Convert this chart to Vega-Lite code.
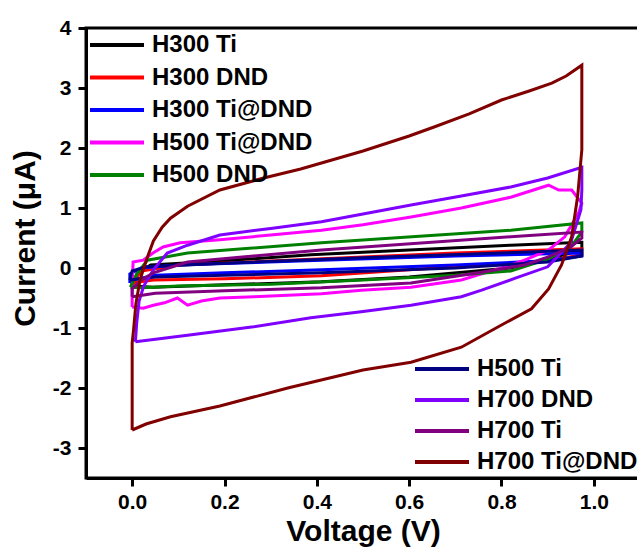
{
  "$schema": "https://vega.github.io/schema/vega-lite/v6.json",
  "width": 554,
  "height": 450,
  "autosize": "none",
  "padding": {"left": 86, "top": 28, "right": 0, "bottom": 74},
  "background": "white",
  "config": {
    "font": "Liberation Sans",
    "view": {"stroke": "black", "strokeWidth": 3},
    "axis": {
      "grid": false,
      "domainColor": "black",
      "domainWidth": 3,
      "tickColor": "black",
      "tickWidth": 3,
      "tickSize": 8,
      "labelFont": "Liberation Sans",
      "labelFontWeight": "bold",
      "labelFontSize": 21,
      "labelColor": "black",
      "titleFont": "Liberation Sans",
      "titleFontWeight": "bold",
      "titleFontSize": 30,
      "titleColor": "black"
    },
    "legend": {
      "orient": "none",
      "symbolType": "M-2.7,0L2.7,0",
      "symbolStrokeWidth": 4,
      "symbolSize": 400,
      "labelFont": "Liberation Sans",
      "labelFontWeight": "bold",
      "labelFontSize": 24,
      "labelColor": "black",
      "labelOffset": 23,
      "labelLimit": 0,
      "rowPadding": 8.5,
      "padding": 0,
      "title": null
    }
  },
  "datasets": {
    "a": [
      {"s":"H300 Ti","i":0,"v":0,"c":-0.3},{"s":"H300 Ti","i":1,"v":0.01,"c":-0.1},{"s":"H300 Ti","i":2,"v":0.04,"c":0.05},{"s":"H300 Ti","i":3,"v":0.2,"c":0.12},{"s":"H300 Ti","i":4,"v":0.387,"c":0.22},{"s":"H300 Ti","i":5,"v":0.6,"c":0.3},{"s":"H300 Ti","i":6,"v":0.82,"c":0.38},{"s":"H300 Ti","i":7,"v":0.974,"c":0.43},{"s":"H300 Ti","i":8,"v":0.974,"c":0.3},{"s":"H300 Ti","i":9,"v":0.9,"c":0.15},{"s":"H300 Ti","i":10,"v":0.82,"c":0.0},{"s":"H300 Ti","i":11,"v":0.6,"c":-0.15},{"s":"H300 Ti","i":12,"v":0.41,"c":-0.23},{"s":"H300 Ti","i":13,"v":0.2,"c":-0.28},{"s":"H300 Ti","i":14,"v":0.046,"c":-0.32},{"s":"H300 Ti","i":15,"v":0,"c":-0.3},

      {"s":"H300 DND","i":0,"v":0,"c":-0.25},{"s":"H300 DND","i":1,"v":0.02,"c":-0.05},{"s":"H300 DND","i":2,"v":0.1,"c":0.05},{"s":"H300 DND","i":3,"v":0.4,"c":0.15},{"s":"H300 DND","i":4,"v":0.7,"c":0.25},{"s":"H300 DND","i":5,"v":0.974,"c":0.32},{"s":"H300 DND","i":6,"v":0.974,"c":0.22},{"s":"H300 DND","i":7,"v":0.9,"c":0.12},{"s":"H300 DND","i":8,"v":0.82,"c":0.08},{"s":"H300 DND","i":9,"v":0.6,"c":-0.03},{"s":"H300 DND","i":10,"v":0.41,"c":-0.13},{"s":"H300 DND","i":11,"v":0.2,"c":-0.18},{"s":"H300 DND","i":12,"v":0.046,"c":-0.2},{"s":"H300 DND","i":13,"v":0,"c":-0.25},

      {"s":"H300 Ti@DND","i":0,"v":-0.005,"c":-0.25},{"s":"H300 Ti@DND","i":1,"v":-0.005,"c":-0.1},{"s":"H300 Ti@DND","i":2,"v":0.02,"c":0.0},{"s":"H300 Ti@DND","i":3,"v":0.1,"c":0.05},{"s":"H300 Ti@DND","i":4,"v":0.41,"c":0.13},{"s":"H300 Ti@DND","i":5,"v":0.7,"c":0.2},{"s":"H300 Ti@DND","i":6,"v":0.974,"c":0.25},{"s":"H300 Ti@DND","i":7,"v":0.974,"c":0.2},{"s":"H300 Ti@DND","i":8,"v":0.9,"c":0.12},{"s":"H300 Ti@DND","i":9,"v":0.7,"c":0.05},{"s":"H300 Ti@DND","i":10,"v":0.41,"c":-0.03},{"s":"H300 Ti@DND","i":11,"v":0.2,"c":-0.08},{"s":"H300 Ti@DND","i":12,"v":0.05,"c":-0.12},{"s":"H300 Ti@DND","i":13,"v":0,"c":-0.2},{"s":"H300 Ti@DND","i":14,"v":-0.005,"c":-0.25},

      {"s":"H500 Ti@DND","i":0,"v":0,"c":-0.65},{"s":"H500 Ti@DND","i":1,"v":0,"c":-0.3},{"s":"H500 Ti@DND","i":2,"v":0.002,"c":0.1},{"s":"H500 Ti@DND","i":3,"v":0.024,"c":0.13},{"s":"H500 Ti@DND","i":4,"v":0.045,"c":0.25},{"s":"H500 Ti@DND","i":5,"v":0.067,"c":0.35},{"s":"H500 Ti@DND","i":6,"v":0.104,"c":0.42},{"s":"H500 Ti@DND","i":7,"v":0.19,"c":0.47},{"s":"H500 Ti@DND","i":8,"v":0.3,"c":0.55},{"s":"H500 Ti@DND","i":9,"v":0.41,"c":0.63},{"s":"H500 Ti@DND","i":10,"v":0.5,"c":0.72},{"s":"H500 Ti@DND","i":11,"v":0.604,"c":0.85},{"s":"H500 Ti@DND","i":12,"v":0.713,"c":1.0},{"s":"H500 Ti@DND","i":13,"v":0.82,"c":1.18},{"s":"H500 Ti@DND","i":14,"v":0.902,"c":1.38},{"s":"H500 Ti@DND","i":15,"v":0.924,"c":1.3},{"s":"H500 Ti@DND","i":16,"v":0.952,"c":1.3},{"s":"H500 Ti@DND","i":17,"v":0.974,"c":1.08},{"s":"H500 Ti@DND","i":18,"v":0.967,"c":0.92},{"s":"H500 Ti@DND","i":19,"v":0.937,"c":0.52},{"s":"H500 Ti@DND","i":20,"v":0.902,"c":0.3},{"s":"H500 Ti@DND","i":21,"v":0.85,"c":0.13},{"s":"H500 Ti@DND","i":22,"v":0.82,"c":0.05},{"s":"H500 Ti@DND","i":23,"v":0.713,"c":-0.2},{"s":"H500 Ti@DND","i":24,"v":0.604,"c":-0.32},{"s":"H500 Ti@DND","i":25,"v":0.496,"c":-0.37},{"s":"H500 Ti@DND","i":26,"v":0.41,"c":-0.43},{"s":"H500 Ti@DND","i":27,"v":0.264,"c":-0.48},{"s":"H500 Ti@DND","i":28,"v":0.19,"c":-0.5},{"s":"H500 Ti@DND","i":29,"v":0.15,"c":-0.55},{"s":"H500 Ti@DND","i":30,"v":0.12,"c":-0.62},{"s":"H500 Ti@DND","i":31,"v":0.098,"c":-0.5},{"s":"H500 Ti@DND","i":32,"v":0.07,"c":-0.58},{"s":"H500 Ti@DND","i":33,"v":0.046,"c":-0.62},{"s":"H500 Ti@DND","i":34,"v":0.024,"c":-0.67},{"s":"H500 Ti@DND","i":35,"v":0,"c":-0.65},

      {"s":"H500 DND","i":0,"v":-0.004,"c":-0.32},{"s":"H500 DND","i":1,"v":0.01,"c":-0.1},{"s":"H500 DND","i":2,"v":0.033,"c":0.13},{"s":"H500 DND","i":3,"v":0.12,"c":0.25},{"s":"H500 DND","i":4,"v":0.41,"c":0.42},{"s":"H500 DND","i":5,"v":0.82,"c":0.63},{"s":"H500 DND","i":6,"v":0.974,"c":0.75},{"s":"H500 DND","i":7,"v":0.974,"c":0.6},{"s":"H500 DND","i":8,"v":0.95,"c":0.35},{"s":"H500 DND","i":9,"v":0.9,"c":0.15},{"s":"H500 DND","i":10,"v":0.82,"c":-0.05},{"s":"H500 DND","i":11,"v":0.7,"c":-0.12},{"s":"H500 DND","i":12,"v":0.5,"c":-0.2},{"s":"H500 DND","i":13,"v":0.3,"c":-0.27},{"s":"H500 DND","i":14,"v":0.1,"c":-0.3},{"s":"H500 DND","i":15,"v":0.02,"c":-0.33},{"s":"H500 DND","i":16,"v":-0.004,"c":-0.32}
    ],
    "b": [
      {"s":"H500 Ti","i":0,"v":-0.005,"c":-0.2},{"s":"H500 Ti","i":1,"v":0,"c":-0.05},{"s":"H500 Ti","i":2,"v":0.03,"c":0.02},{"s":"H500 Ti","i":3,"v":0.2,"c":0.08},{"s":"H500 Ti","i":4,"v":0.5,"c":0.17},{"s":"H500 Ti","i":5,"v":0.8,"c":0.25},{"s":"H500 Ti","i":6,"v":0.974,"c":0.3},{"s":"H500 Ti","i":7,"v":0.974,"c":0.2},{"s":"H500 Ti","i":8,"v":0.9,"c":0.1},{"s":"H500 Ti","i":9,"v":0.7,"c":0.0},{"s":"H500 Ti","i":10,"v":0.41,"c":-0.08},{"s":"H500 Ti","i":11,"v":0.2,"c":-0.12},{"s":"H500 Ti","i":12,"v":0.05,"c":-0.15},{"s":"H500 Ti","i":13,"v":-0.005,"c":-0.2},

      {"s":"H700 DND","i":0,"v":0.007,"c":-1.23},{"s":"H700 DND","i":1,"v":0.01,"c":-0.9},{"s":"H700 DND","i":2,"v":0.015,"c":-0.55},{"s":"H700 DND","i":3,"v":0.025,"c":-0.3},{"s":"H700 DND","i":4,"v":0.046,"c":-0.03},{"s":"H700 DND","i":5,"v":0.076,"c":0.25},{"s":"H700 DND","i":6,"v":0.12,"c":0.38},{"s":"H700 DND","i":7,"v":0.19,"c":0.55},{"s":"H700 DND","i":8,"v":0.3,"c":0.66},{"s":"H700 DND","i":9,"v":0.41,"c":0.77},{"s":"H700 DND","i":10,"v":0.5,"c":0.9},{"s":"H700 DND","i":11,"v":0.604,"c":1.05},{"s":"H700 DND","i":12,"v":0.713,"c":1.2},{"s":"H700 DND","i":13,"v":0.82,"c":1.35},{"s":"H700 DND","i":14,"v":0.9,"c":1.5},{"s":"H700 DND","i":15,"v":0.974,"c":1.68},{"s":"H700 DND","i":16,"v":0.974,"c":1.3},{"s":"H700 DND","i":17,"v":0.972,"c":0.97},{"s":"H700 DND","i":18,"v":0.95,"c":0.42},{"s":"H700 DND","i":19,"v":0.9,"c":0.02},{"s":"H700 DND","i":20,"v":0.83,"c":-0.17},{"s":"H700 DND","i":21,"v":0.757,"c":-0.37},{"s":"H700 DND","i":22,"v":0.713,"c":-0.48},{"s":"H700 DND","i":23,"v":0.604,"c":-0.62},{"s":"H700 DND","i":24,"v":0.496,"c":-0.73},{"s":"H700 DND","i":25,"v":0.387,"c":-0.83},{"s":"H700 DND","i":26,"v":0.263,"c":-0.98},{"s":"H700 DND","i":27,"v":0.12,"c":-1.12},{"s":"H700 DND","i":28,"v":0.007,"c":-1.23},

      {"s":"H700 Ti","i":0,"v":0,"c":-0.48},{"s":"H700 Ti","i":1,"v":0,"c":-0.35},{"s":"H700 Ti","i":2,"v":0.02,"c":-0.2},{"s":"H700 Ti","i":3,"v":0.046,"c":-0.08},{"s":"H700 Ti","i":4,"v":0.12,"c":0.1},{"s":"H700 Ti","i":5,"v":0.41,"c":0.3},{"s":"H700 Ti","i":6,"v":0.82,"c":0.52},{"s":"H700 Ti","i":7,"v":0.974,"c":0.6},{"s":"H700 Ti","i":8,"v":0.974,"c":0.5},{"s":"H700 Ti","i":9,"v":0.95,"c":0.35},{"s":"H700 Ti","i":10,"v":0.9,"c":0.18},{"s":"H700 Ti","i":11,"v":0.85,"c":0.05},{"s":"H700 Ti","i":12,"v":0.75,"c":-0.08},{"s":"H700 Ti","i":13,"v":0.604,"c":-0.25},{"s":"H700 Ti","i":14,"v":0.41,"c":-0.33},{"s":"H700 Ti","i":15,"v":0.2,"c":-0.38},{"s":"H700 Ti","i":16,"v":0.05,"c":-0.42},{"s":"H700 Ti","i":17,"v":0,"c":-0.48},

      {"s":"H700 Ti@DND","i":0,"v":0,"c":-2.7},{"s":"H700 Ti@DND","i":1,"v":0,"c":-2.0},{"s":"H700 Ti@DND","i":2,"v":0,"c":-1.25},{"s":"H700 Ti@DND","i":3,"v":0.003,"c":-1.03},{"s":"H700 Ti@DND","i":4,"v":0.008,"c":-0.6},{"s":"H700 Ti@DND","i":5,"v":0.017,"c":-0.2},{"s":"H700 Ti@DND","i":6,"v":0.025,"c":0.0},{"s":"H700 Ti@DND","i":7,"v":0.033,"c":0.18},{"s":"H700 Ti@DND","i":8,"v":0.046,"c":0.45},{"s":"H700 Ti@DND","i":9,"v":0.065,"c":0.68},{"s":"H700 Ti@DND","i":10,"v":0.083,"c":0.83},{"s":"H700 Ti@DND","i":11,"v":0.12,"c":1.03},{"s":"H700 Ti@DND","i":12,"v":0.19,"c":1.3},{"s":"H700 Ti@DND","i":13,"v":0.285,"c":1.5},{"s":"H700 Ti@DND","i":14,"v":0.365,"c":1.65},{"s":"H700 Ti@DND","i":15,"v":0.41,"c":1.75},{"s":"H700 Ti@DND","i":16,"v":0.5,"c":1.95},{"s":"H700 Ti@DND","i":17,"v":0.6,"c":2.2},{"s":"H700 Ti@DND","i":18,"v":0.654,"c":2.35},{"s":"H700 Ti@DND","i":19,"v":0.73,"c":2.57},{"s":"H700 Ti@DND","i":20,"v":0.8,"c":2.8},{"s":"H700 Ti@DND","i":21,"v":0.86,"c":2.95},{"s":"H700 Ti@DND","i":22,"v":0.909,"c":3.08},{"s":"H700 Ti@DND","i":23,"v":0.94,"c":3.2},{"s":"H700 Ti@DND","i":24,"v":0.974,"c":3.38},{"s":"H700 Ti@DND","i":25,"v":0.974,"c":2.8},{"s":"H700 Ti@DND","i":26,"v":0.974,"c":1.97},{"s":"H700 Ti@DND","i":27,"v":0.965,"c":1.2},{"s":"H700 Ti@DND","i":28,"v":0.952,"c":0.52},{"s":"H700 Ti@DND","i":29,"v":0.93,"c":0.05},{"s":"H700 Ti@DND","i":30,"v":0.902,"c":-0.35},{"s":"H700 Ti@DND","i":31,"v":0.865,"c":-0.68},{"s":"H700 Ti@DND","i":32,"v":0.8,"c":-0.95},{"s":"H700 Ti@DND","i":33,"v":0.713,"c":-1.32},{"s":"H700 Ti@DND","i":34,"v":0.604,"c":-1.57},{"s":"H700 Ti@DND","i":35,"v":0.5,"c":-1.7},{"s":"H700 Ti@DND","i":36,"v":0.337,"c":-2.0},{"s":"H700 Ti@DND","i":37,"v":0.19,"c":-2.3},{"s":"H700 Ti@DND","i":38,"v":0.083,"c":-2.48},{"s":"H700 Ti@DND","i":39,"v":0.03,"c":-2.6},{"s":"H700 Ti@DND","i":40,"v":0,"c":-2.7}
    ]
  },
  "layer": [
    {
      "data": {"name": "a"},
      "mark": {"type": "line", "strokeWidth": 3},
      "encoding": {
        "x": {"field": "v", "type": "quantitative",
              "scale": {"domain": [-0.1, 1.1], "nice": false, "zero": false},
              "axis": {"values": [0, 0.2, 0.4, 0.6, 0.8, 1.0], "format": ".1f", "labelPadding": 5, "title": "Voltage (V)", "titleBaseline": "alphabetic", "titleY": 62}},
        "y": {"field": "c", "type": "quantitative",
              "scale": {"domain": [-3.5, 4], "nice": false, "zero": false},
              "axis": {"values": [-3, -2, -1, 0, 1, 2, 3, 4], "format": "d", "labelExpr": "replace(datum.label, '−', '-')", "labelPadding": 7, "title": "Current (μA)", "titleX": -46, "titleY": 210}},
        "color": {"field": "s", "type": "nominal",
                  "scale": {"domain": ["H300 Ti", "H300 DND", "H300 Ti@DND", "H500 Ti@DND", "H500 DND"],
                            "range": ["#000000", "#ff0000", "#0000ff", "#ff00ff", "#008000"]},
                  "legend": {"legendX": 19, "legendY": 5}},
        "order": {"field": "i", "type": "quantitative"}
      }
    },
    {
      "data": {"name": "b"},
      "mark": {"type": "line", "strokeWidth": 3},
      "encoding": {
        "x": {"field": "v", "type": "quantitative"},
        "y": {"field": "c", "type": "quantitative"},
        "color": {"field": "s", "type": "nominal",
                  "scale": {"domain": ["H500 Ti", "H700 DND", "H700 Ti", "H700 Ti@DND"],
                            "range": ["#000080", "#8000ff", "#800080", "#800000"]},
                  "legend": {"legendX": 344, "legendY": 329, "rowPadding": 7}},
        "order": {"field": "i", "type": "quantitative"}
      }
    }
  ],
  "resolve": {"scale": {"color": "independent"}}
}
